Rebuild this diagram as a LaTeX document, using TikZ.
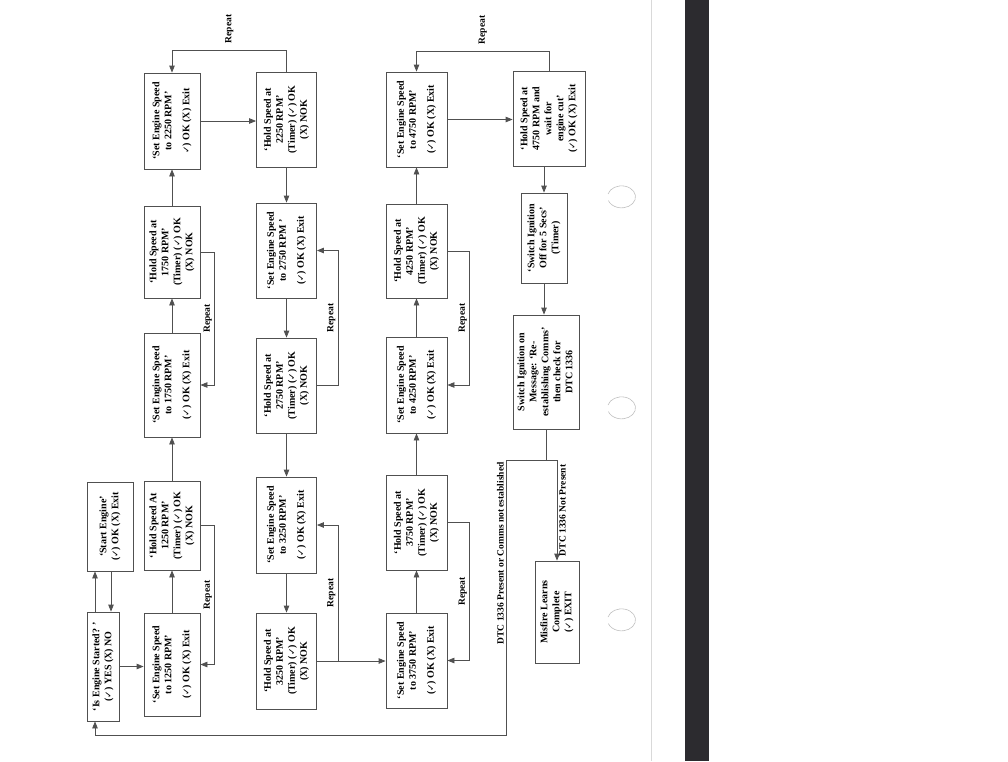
\documentclass[tikz,border=0pt]{standalone}
\usepackage{graphicx}
\usepackage{fontspec}
\setmainfont{Liberation Serif}
\newfontfamily\symfont{DejaVu Sans}
\usetikzlibrary{arrows.meta,calc,positioning}
\definecolor{linec}{RGB}{80,80,80}
\definecolor{bandc}{RGB}{44,43,47}
\newcommand{\ck}{{\symfont\small ✓}}
\newcommand{\vt}[1]{\rotatebox{90}{\begin{tabular}{@{}c@{}}#1\end{tabular}}}

\begin{document}
\begin{tikzpicture}[x=1pt,y=-1pt,>={Triangle[length=7pt,width=5.5pt]},
  font=\bfseries\fontsize{9.5}{11.5}\selectfont,
  box/.style={draw=linec,line width=0.8pt,inner sep=0pt,font=\bfseries\fontsize{10}{12}\selectfont},
  flow/.style={draw=linec,line width=0.8pt,->},
  link/.style={draw=linec,line width=0.8pt},
  lbl/.style={rotate=90,inner sep=2pt}]
  \useasboundingbox (0,0) rectangle (1008,761);
  % paper edge and punch marks
  \fill[bandc] (685,0) rectangle (709,761);
  \draw[black!15,line width=0.6pt] (651,0) -- (651,761);
  \foreach \hy in {197,408,620}
    \draw[black!25,line width=0.6pt] (622,\hy) ++(-14,-3) arc [start angle=195, end angle=520, x radius=14, y radius=11];

  % start
  \node[box,minimum width=32pt,minimum height=109pt] (isst) at (103,666.5) {\vt{`Is Engine Started? '\\(\ck) YES (X) NO}};
  \node[box,minimum width=46pt,minimum height=89pt] (start) at (110,526.5) {\vt{`Start Engine'\\(\ck) OK (X) Exit}};

  % first column
  \node[box,minimum width=56pt,minimum height=103pt] (set1250) at (172,664.5) {\vt{`Set Engine Speed\\to 1250 RPM'\\[6pt](\ck) OK (X) Exit}};
  \node[box,minimum width=56pt,minimum height=89pt] (hold1250) at (172,525.5) {\vt{`Hold Speed At\\1250 RPM'\\(Timer) (\ck) OK\\(X) NOK}};
  \node[box,minimum width=56pt,minimum height=104pt] (set1750) at (172,385) {\vt{`Set Engine Speed\\to 1750 RPM'\\[6pt](\ck) OK (X) Exit}};
  \node[box,minimum width=56pt,minimum height=92pt] (hold1750) at (172,252) {\vt{`Hold Speed at\\1750 RPM'\\(Timer) (\ck) OK\\(X) NOK}};
  \node[box,minimum width=56pt,minimum height=96pt] (set2250) at (172,121) {\vt{`Set Engine Speed\\to 2250 RPM'\\[6pt]\ck) OK (X) Exit}};

  % second column
  \node[box,minimum width=60pt,minimum height=95pt] (hold2250) at (286.5,119.5) {\vt{`Hold Speed at\\2250 RPM'\\(Timer) (\ck) OK\\(X) NOK}};
  \node[box,minimum width=60pt,minimum height=95pt] (set2750) at (286.5,250.5) {\vt{`Set Engine Speed\\to 2750 RPM '\\[6pt](\ck) OK (X) Exit}};
  \node[box,minimum width=60pt,minimum height=95pt] (hold2750) at (286.5,385.5) {\vt{`Hold Speed at\\2750 RPM'\\(Timer) (\ck) OK\\(X) NOK}};
  \node[box,minimum width=60pt,minimum height=96pt] (set3250) at (286.5,525) {\vt{`Set Engine Speed\\to 3250 RPM'\\[6pt](\ck) OK (X) Exit}};
  \node[box,minimum width=60pt,minimum height=96pt] (hold3250) at (286.5,661) {\vt{`Hold Speed at\\3250 RPM'\\(Timer) (\ck) OK\\(X) NOK}};

  % third column
  \node[box,minimum width=61pt,minimum height=95pt] (set3750) at (416.5,660.5) {\vt{`Set Engine Speed\\to 3750 RPM'\\[6pt](\ck) OK (X) Exit}};
  \node[box,minimum width=61pt,minimum height=95pt] (hold3750) at (416.5,522.5) {\vt{`Hold Speed at\\3750 RPM'\\(Timer) (\ck) OK\\(X) NOK}};
  \node[box,minimum width=61pt,minimum height=96pt] (set4250) at (416.5,385) {\vt{`Set Engine Speed\\to 4250 RPM'\\[6pt](\ck) OK (X) Exit}};
  \node[box,minimum width=61pt,minimum height=94pt] (hold4250) at (416.5,251) {\vt{`Hold Speed at\\4250 RPM'\\(Timer) (\ck) OK\\(X) NOK}};
  \node[box,minimum width=61pt,minimum height=95pt] (set4750) at (416.5,119.5) {\vt{`Set Engine Speed\\to 4750 RPM'\\[6pt](\ck) OK (X) Exit}};

  % last column
  \node[box,minimum width=72pt,minimum height=95pt] (hold4750) at (549,118.5) {\vt{`Hold Speed at\\4750 RPM and\\wait for\\engine cut'\\(\ck) OK (X) Exit}};
  \node[box,minimum width=46pt,minimum height=90pt] (swoff) at (544,238) {\vt{`Switch Ignition\\Off for 5 Secs'\\(Timer)}};
  \node[box,minimum width=66pt,minimum height=114pt] (swon) at (546,372) {\vt{Switch Ignition on\\Message: `Re-\\establishing Comms'\\then check for\\DTC 1336}};
  \node[box,minimum width=44pt,minimum height=102pt] (misfire) at (557,612) {\vt{Misfire Learns\\Complete\\(\ck) EXIT}};

  \coordinate (split) at (546,460);
  \coordinate (dtctop) at (506,460);
  \coordinate (dtcbot) at (506,735);
  \coordinate (back) at (95,735);

  % connectors
  \draw[flow] ([xshift=-8pt]isst.north) -- ([xshift=-8pt]isst.north |- start.south);
  \draw[flow] ([xshift=8pt]isst.north |- start.south) -- ([xshift=8pt]isst.north);
  \draw[flow] (isst.east) -- (isst.east -| set1250.west);
  \draw[flow] (set1250.north) -- (hold1250.south);
  \draw[flow] (hold1250.north) -- (set1750.south);
  \draw[flow] (set1750.north) -- (hold1750.south);
  \draw[flow] (hold1750.north) -- (set2250.south);
  \draw[flow] (hold1250.east) -- ++(14,0) |- node[lbl,pos=0.25,anchor=south]{Repeat} (set1250.east);
  \draw[flow] (hold1750.east) -- ++(14,0) |- node[lbl,pos=0.25,anchor=south]{Repeat} (set1750.east);

  \draw[flow] (set2250.east) -- (set2250.east -| hold2250.west);
  \draw[flow] (hold2250.north) -- ++(0,-21) -| node[lbl,pos=0.25,anchor=west,inner sep=7pt]{Repeat} (set2250.north);
  \draw[flow] (hold2250.south) -- (set2750.north);
  \draw[flow] (set2750.south) -- (hold2750.north);
  \draw[flow] (hold2750.south) -- (set3250.north);
  \draw[flow] (set3250.south) -- (hold3250.north);
  \draw[flow] (hold2750.east) -- ++(21,0) |- node[lbl,pos=0.25,anchor=south]{Repeat} (set2750.east);
  \draw[flow] (hold3250.east) -- ++(21,0) |- node[lbl,pos=0.25,anchor=south]{Repeat} (set3250.east);
  \draw[flow] (hold3250.east) -- (hold3250.east -| set3750.west);

  \draw[flow] (set3750.north) -- (hold3750.south);
  \draw[flow] (hold3750.north) -- (set4250.south);
  \draw[flow] (set4250.north) -- (hold4250.south);
  \draw[flow] (hold4250.north) -- (set4750.south);
  \draw[flow] (hold3750.east) -- ++(22,0) |- node[lbl,pos=0.25,anchor=south]{Repeat} (set3750.east);
  \draw[flow] (hold4250.east) -- ++(22,0) |- node[lbl,pos=0.25,anchor=south]{Repeat} (set4250.east);

  \draw[flow] (set4750.east) -- (set4750.east -| hold4750.west);
  \draw[flow] (hold4750.north) -- ++(0,-19) -| node[lbl,pos=0.25,anchor=west,inner sep=7pt]{Repeat} (set4750.north);
  \draw[flow] (swoff.north |- hold4750.south) -- (swoff.north);
  \draw[flow] (swoff.south) -- (swoff.south |- swon.north);
  \draw[link] (swon.south) -- (split);
  \draw[flow] (dtctop) -- (split -| misfire.north) -- node[lbl,midway,anchor=north]{DTC 1336 Not Present} (misfire.north);
  \draw[flow] (dtctop) -- node[lbl,pos=0,anchor=south east]{DTC 1336 Present or Comms not established} (dtcbot) -- (back) -- (back |- isst.south);
\end{tikzpicture}
\end{document}
